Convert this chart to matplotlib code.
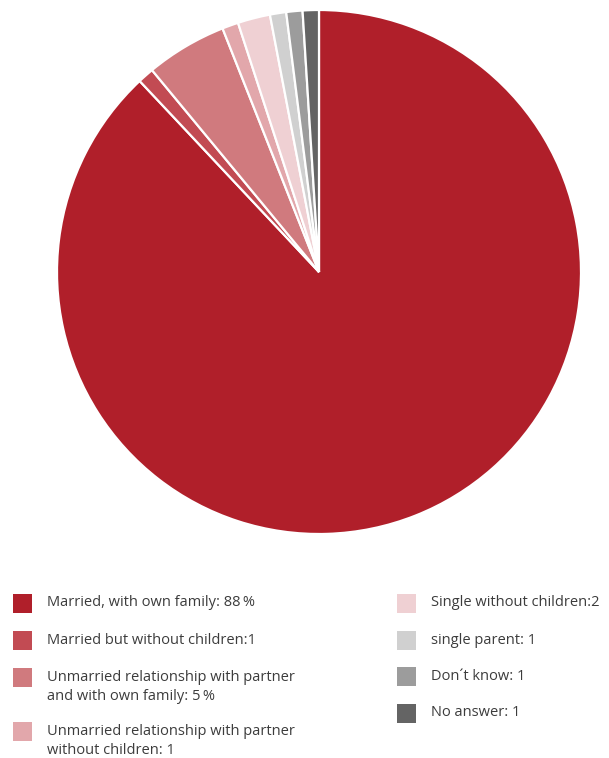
import matplotlib.pyplot as plt
from matplotlib.patches import Rectangle

labels = [
    "Married, with own family: 88\u2009%",
    "Married but without children:1",
    "Unmarried relationship with partner\nand with own family: 5\u2009%",
    "Unmarried relationship with partner\nwithout children: 1",
    "Single without children:2",
    "single parent: 1",
    "Don\u00b4t know: 1",
    "No answer: 1",
]
values = [88, 1, 5, 1, 2, 1, 1, 1]
colors = ["#B01F2A", "#C24B53", "#D07A7E", "#E2A7AB", "#EFD0D3",
          "#D0D0D0", "#9C9C9C", "#646464"]

W, H = 609, 758
fig = plt.figure(figsize=(W / 100, H / 100), dpi=100)

# pie: centre (319, 272), radius 262 px
cx, cy, r = 319, 272, 262
ax = fig.add_axes([(cx - r) / W, 1 - (cy + r) / H, 2 * r / W, 2 * r / H])
ax.pie(values, colors=colors, startangle=90, counterclock=False,
       wedgeprops=dict(edgecolor="white", linewidth=1.6))
ax.set_aspect("equal")
ax.set_xlim(-1, 1)
ax.set_ylim(-1, 1)
ax.axis("off")

# legend, two columns laid out by hand
left_rows = [603, 640, 677, 731]
right_rows = [603, 640, 676, 713]
slots = [(13, y) for y in left_rows] + [(397, y) for y in right_rows]
sq = 19
for (x, y), lab, col in zip(slots, labels, colors):
    fig.patches.append(Rectangle((x / W, 1 - (y + sq / 2) / H), sq / W, sq / H,
                                 transform=fig.transFigure, facecolor=col,
                                 edgecolor="none"))
    multi = "\n" in lab
    # multi-line labels hang from the row's first text line
    ty = y - 7 if multi else y
    fig.text((x + 34) / W, 1 - ty / H, lab, fontsize=10.5, family="Open Sans",
             color="#3c3c3c", va="top" if multi else "center",
             ha="left", linespacing=1.4)

fig.savefig("out.png", dpi=100)
